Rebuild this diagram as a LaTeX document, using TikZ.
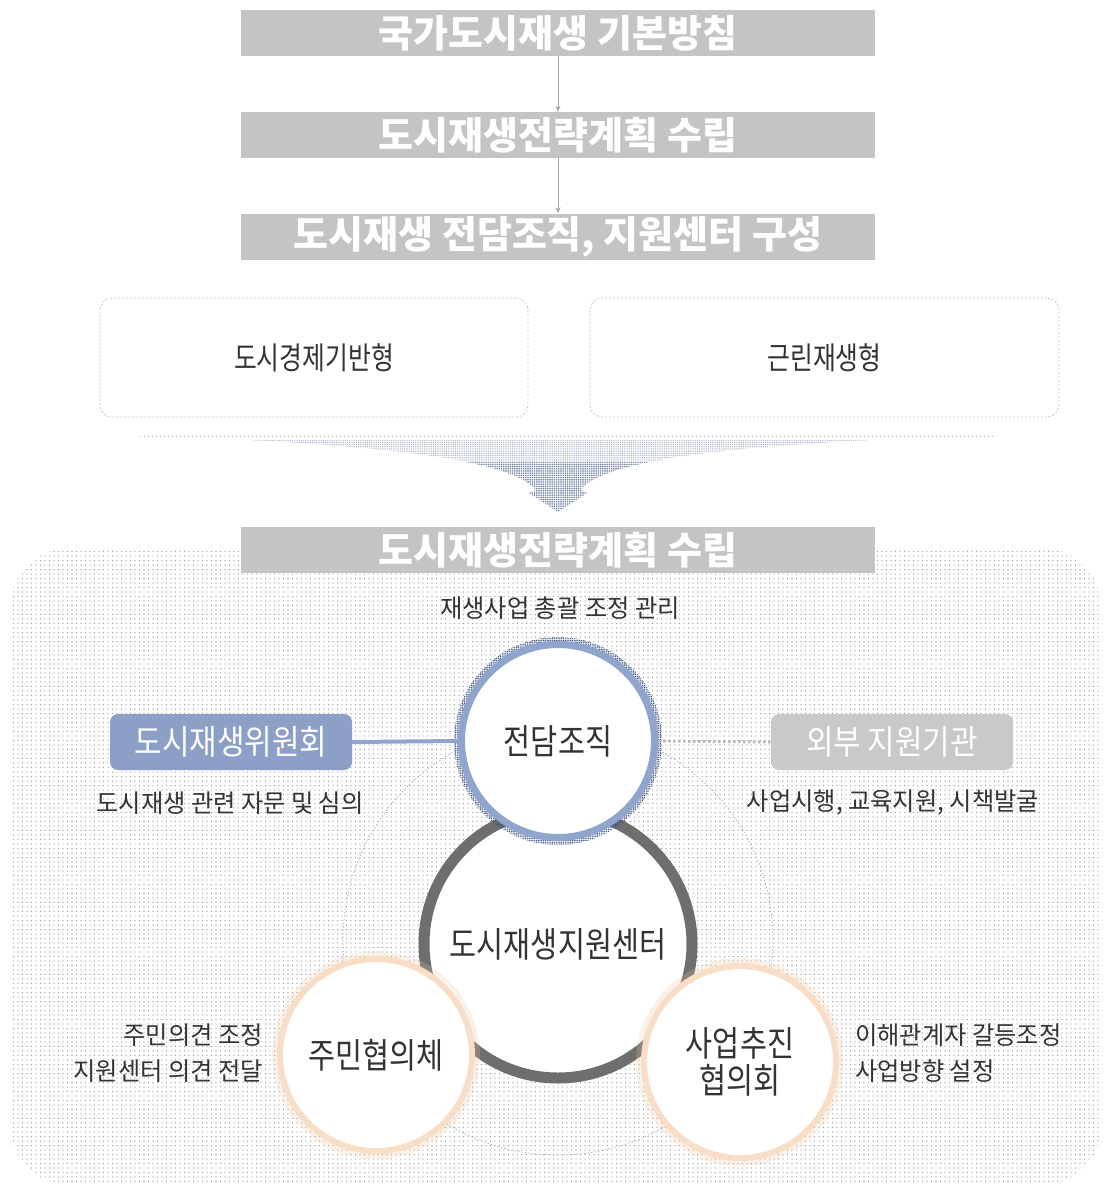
\documentclass[tikz,border=0pt]{standalone}
\usepackage{fontspec}
\setmainfont{Noto Sans CJK KR}
\newfontfamily\condfont{Noto Sans CJK KR}[FakeStretch=0.84]
\newfontfamily\boxfont{Noto Sans CJK KR}[FakeStretch=0.88]
\newfontfamily\typefont{Noto Sans CJK KR}[FakeStretch=0.8]
\newfontfamily\smallfont{Noto Sans CJK KR}[FakeStretch=0.97]
\usetikzlibrary{patterns.meta,arrows.meta}
\definecolor{hdr}{HTML}{C4C4C4}
\definecolor{txt}{HTML}{333333}
\definecolor{ringblue}{HTML}{8FA5CD}
\definecolor{haloblue}{HTML}{3F5485}
\definecolor{ringgray}{HTML}{6E6E6E}
\definecolor{peach}{HTML}{F8DEC6}
\definecolor{halopeach}{HTML}{EDC6A2}
\definecolor{wiwon}{HTML}{8C9FC7}
\definecolor{oebu}{HTML}{C9C9C9}
\definecolor{dotgray}{HTML}{939393}
\definecolor{funnel}{HTML}{7685A6}
\definecolor{arcblue}{HTML}{A9B4CC}
\begin{document}
\begin{tikzpicture}[x=1pt,y=-1pt,
  hdrbox/.style={fill=hdr, minimum width=634pt, minimum height=46pt, inner sep=0pt, text=white, font=\fontsize{38}{40}\selectfont\bfseries},
  flowarr/.style={draw=gray!70, line width=0.7pt, -{Stealth[length=6pt,width=5pt]}},
  typebox/.style={draw=gray!45, dash pattern=on 2pt off 2pt, line width=0.8pt, rounded corners=12pt, minimum height=119pt, inner sep=0pt, text=txt, font=\typefont\fontsize{31}{33}\selectfont},
  bigcirc/.style={circle, fill=white, inner sep=0pt, text=txt, font=\condfont\fontsize{35}{38}\selectfont},
  sidebox/.style={rounded corners=8pt, minimum width=242pt, minimum height=56pt, inner sep=0pt, text=white, font=\boxfont\fontsize{34}{36}\selectfont},
  note/.style={text=txt, font=\smallfont\fontsize{25}{36}\selectfont, inner sep=0pt}]
\useasboundingbox (0,0) rectangle (1104,1186);
\fill[white] (0,0) rectangle (1104,1186);

% top flow
\node[hdrbox] (h1) at (558,33) {국가도시재생 기본방침};
\node[hdrbox] (h2) at (558,135) {도시재생전략계획 수립};
\node[hdrbox] (h3) at (558,236.5) {도시재생 전담조직, 지원센터 구성};
\draw[flowarr] (h1) -- (h2);
\draw[flowarr] (h2) -- (h3);

% type boxes
\node[typebox, minimum width=428pt] (t1) at (314,357.5) {도시경제기반형};
\node[typebox, minimum width=469pt] (t2) at (824.5,357.5) {근린재생형};

% funnel arrow
\draw[funnel!70, line width=1pt, dash pattern=on 1pt off 3pt] (140,436) -- (993,436);
\fill[pattern={Dots[distance=2.2pt,radius=0.75pt]}, pattern color=funnel!60]
  (250,440) -- (870,440) .. controls (680,450) and (600,466) .. (580,490)
  -- (587,493) -- (558,512) -- (529,493) -- (536,490)
  .. controls (516,466) and (436,450) .. (250,440) -- cycle;
\begin{scope}
\clip (0,462) rectangle (1104,520);
\fill[pattern={Dots[distance=2.2pt,radius=0.8pt]}, pattern color=funnel]
  (250,440) -- (870,440) .. controls (680,450) and (600,466) .. (580,490)
  -- (587,493) -- (558,512) -- (529,493) -- (536,490)
  .. controls (516,466) and (436,450) .. (250,440) -- cycle;
\end{scope}

% background region
\fill[pattern={Dots[distance=4.5pt,radius=0.7pt]}, pattern color=dotgray, rounded corners=60pt] (10,548) rectangle (1102,1185);
\node[hdrbox] (h4) at (558,550) {도시재생전략계획 수립};

% dotted orbit
\draw[draw=arcblue, line width=0.8pt, dash pattern=on 1.5pt off 2pt] (558,940) circle[radius=215pt];

% support center
\node[bigcirc, draw=ringgray, line width=11pt, minimum size=268pt] (sc) at (558,944) {도시재생지원센터};

% side boxes
\node[sidebox, fill=wiwon] (ww) at (231,742) {도시재생위원회};
\node[sidebox, fill=oebu] (oe) at (892,742) {외부 지원기관};

% dedicated organisation
\fill[pattern={Dots[distance=1.8pt,radius=0.7pt]}, pattern color=haloblue, even odd rule] (558,741) circle[radius=104pt] circle[radius=99pt];
\node[bigcirc, draw=ringblue, line width=7pt, minimum size=193pt] (jd) at (558,741) {전담조직};
\draw[ringblue, line width=4pt] (ww.east) -- (jd.west);
\draw[gray!55, line width=3pt, dash pattern=on 2.5pt off 2.5pt] (jd.east) -- (oe.west);

% residents / business councils
\fill[pattern={Dots[distance=2pt,radius=0.6pt]}, pattern color=halopeach, even odd rule] (376,1055) circle[radius=104pt] circle[radius=98pt];
\node[bigcirc, draw=peach, line width=6pt, minimum size=192pt] (jm) at (376,1055) {주민협의체};
\fill[pattern={Dots[distance=2pt,radius=0.6pt]}, pattern color=halopeach, even odd rule] (740,1062) circle[radius=104pt] circle[radius=98pt];
\node[bigcirc, draw=peach, line width=6pt, minimum size=192pt, align=center] (sa) at (740,1062) {사업추진\\[-1pt]협의회};

% notes
\node[note] (n0) at (560,608) {재생사업 총괄 조정 관리};
\node[note] (n1) at (230,803) {도시재생 관련 자문 및 심의};
\node[note] (n2) at (893,803) {사업시행, 교육지원, 시책발굴};
\node[note, anchor=east, align=right] (n3) at (263,1053) {주민의견 조정\\지원센터 의견 전달};
\node[note, anchor=west, align=left] (n4) at (855,1053) {이해관계자 갈등조정\\사업방향 설정};
\end{tikzpicture}
\end{document}
